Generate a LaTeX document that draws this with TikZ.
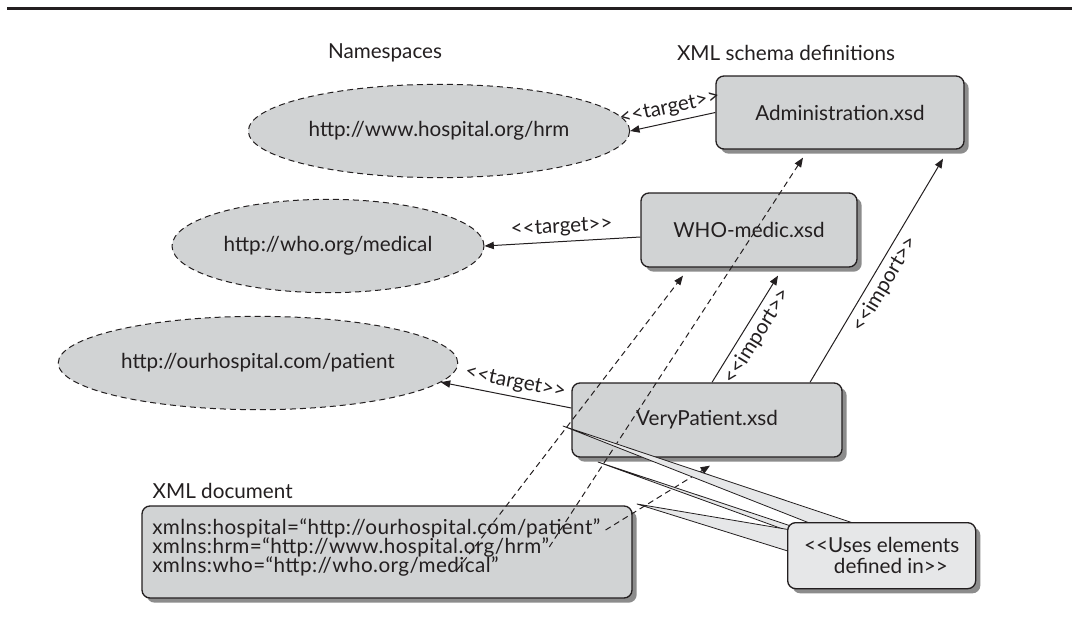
\documentclass[tikz,border=0pt]{standalone}
\usepackage{fontspec}
\setmainfont{Lato}
\usetikzlibrary{arrows.meta,shapes.geometric,shadows}

\definecolor{boxgray}{HTML}{D1D3D4}
\definecolor{notegray}{HTML}{E6E7E8}
\definecolor{inkgray}{HTML}{231F20}

\newcommand{\ltlt}{<\kern0pt<}
\newcommand{\gtgt}{>\kern0pt>}

\begin{document}
\begin{tikzpicture}[
    x=0.75pt, y=-0.75pt,
    font=\fontsize{15.5}{16}\selectfont, text=inkgray,
    >={Triangle[length=7pt, width=5.5pt]},
    namespace/.style={ellipse, draw=inkgray, dash pattern=on 4.5pt off 3pt,
      line width=0.75pt, fill=boxgray, minimum width=234pt, minimum height=70pt},
    schema/.style={rectangle, rounded corners=6pt, draw=inkgray, line width=1pt,
      fill=boxgray, drop shadow={shadow xshift=3.5pt, shadow yshift=-3.5pt,
      fill=black!45, opacity=1}},
    link/.style={->, draw=inkgray, line width=0.75pt},
    dashlink/.style={link, dash pattern=on 4.5pt off 3pt},
    pointer/.style={draw=inkgray, line width=0.6pt, fill=notegray},
    doctext/.style={anchor=west, inner sep=0pt, font=\fontsize{15.5}{16}\selectfont\addfontfeature{LetterSpace=2}},
  line join=round]

  \useasboundingbox (0,0) rectangle (1075,626);

  % top rule
  \draw [line width=2.25pt, inkgray] (7,8.5) -- (1072,8.5);

  % column titles
  \node (nsTitle) at (385,53) {Namespaces};
  \node (xsdTitle) at (786,53) {XML schema definitions};

  % namespaces
  \node [namespace] (hrmNs) at (439,131) {http://www.hospital.org/hrm};
  \node [namespace] (whoNs) at (328,246) {http://who.org/medical};
  \node [namespace] (patientNs) at (258,363) {http://ourhospital.com/patient};

  % schema definitions
  \node [schema, minimum width=186pt, minimum height=54.75pt] (adminXsd)
    at (840,112.5) {Administration.xsd};
  \node [schema, minimum width=162pt, minimum height=55.5pt] (whoXsd)
    at (749,230) {WHO-medic.xsd};
  \node [schema, minimum width=202.5pt, minimum height=55.5pt] (patientXsd)
    at (707,420) {VeryPatient.xsd};

  % XML document
  \node [anchor=west] (docTitle) at (148,491) {XML document};
  \node [schema, minimum width=367.5pt, minimum height=69pt] (xmlDoc)
    at (387,552) {};
  \node [doctext] (docHospital) at (152,528)
    {xmlns:hospital=“http://ourhospital.com/patient”};
  \node [doctext] (docHrm) at (152,547)
    {xmlns:hrm=“http://www.hospital.org/hrm”};
  \node [doctext] (docWho) at (152,566)
    {xmlns:who=“http://who.org/medical”};

  % target links
  \draw [link, <-] (hrmNs.east) --
    node [sloped, above] {\ltlt target\gtgt} (adminXsd.west);
  \draw [link, <-] (whoNs.east) --
    node [sloped, above] {\ltlt target\gtgt} ([shift={(0,7)}]whoXsd.west);
  \draw [link, <-] (patientNs.-6) --
    node [sloped, above, pos=0.55] {\ltlt target\gtgt} ([shift={(0,-12)}]patientXsd.west);

  % import links
  \draw [link] ([shift={(5,0)}]patientXsd.north) --
    node [sloped, below] {\ltlt import\gtgt} ([shift={(29,8)}]whoXsd.south);
  \draw [link] ([shift={(103,0)}]patientXsd.north) --
    node [sloped, below, pos=0.47] {\ltlt import\gtgt} ([shift={(103,9)}]adminXsd.south);

  % namespace declarations
  \draw [dashlink] ([shift={(5,2)}]docHospital.east) -- ([shift={(3,8)}]patientXsd.south);
  \draw [dashlink] (docHrm.east) -- ([shift={(-37,8)}]adminXsd.south);
  \draw [dashlink] ([shift={(305,4)}]docWho.west) -- ([shift={(-66,8)}]whoXsd.south);

  % callout pointers
  \coordinate (noteCorner) at (787,522);
  \coordinate (useA) at (563,426);
  \coordinate (useB) at (598,462);
  \coordinate (useC) at (637,504);
  \path [pointer] (useA) -- ([shift={(30,4)}]noteCorner) -- ([shift={(75,4)}]noteCorner) -- cycle;
  \path [pointer] (useB) -- ([shift={(4,4)}]noteCorner) -- ([shift={(4,10)}]noteCorner) -- cycle;
  \path [pointer] (useC) -- ([shift={(4,8)}]noteCorner) -- ([shift={(4,30)}]noteCorner) -- cycle;

  % callout
  \node [schema, fill=notegray, anchor=north west, align=center,
    minimum width=141pt, minimum height=49.5pt, inner sep=2pt] (usesNote) at (noteCorner)
    {\ltlt Uses elements\\\hspace*{0.9em}defined in\gtgt};
\end{tikzpicture}
\end{document}
